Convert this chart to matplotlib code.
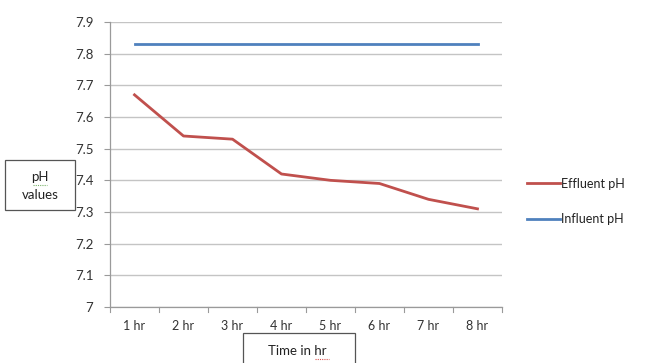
import matplotlib
matplotlib.use("Agg")
import matplotlib.pyplot as plt
from matplotlib.patches import Rectangle

categories = ["1 hr", "2 hr", "3 hr", "4 hr", "5 hr", "6 hr", "7 hr", "8 hr"]
effluent_ph = [7.67, 7.54, 7.53, 7.42, 7.40, 7.39, 7.34, 7.31]
influent_ph = [7.83, 7.83, 7.83, 7.83, 7.83, 7.83, 7.83, 7.83]
y_ticks = [7.0, 7.1, 7.2, 7.3, 7.4, 7.5, 7.6, 7.7, 7.8, 7.9]
y_tick_labels = ["7", "7.1", "7.2", "7.3", "7.4", "7.5", "7.6", "7.7", "7.8", "7.9"]

W, H = 657, 363
fig = plt.figure(figsize=(W / 100, H / 100), dpi=100)
plt.rcParams["font.family"] = ["Lato", "DejaVu Sans"]

ax = fig.add_axes([110 / W, 1 - 307 / H, (502 - 110) / W, (307 - 22) / H])
x = list(range(len(categories)))

ax.plot(x, effluent_ph, color="#C0504D", lw=2.0, label="Effluent pH", solid_joinstyle="round")
ax.plot(x, influent_ph, color="#4F81BD", lw=2.0, label="Influent pH")

ax.set_xlim(-0.5, len(categories) - 0.5)
ax.set_ylim(7.0, 7.9)
ax.set_yticks(y_ticks)
ax.set_yticklabels(y_tick_labels)
ax.set_xticks(x)
ax.set_xticklabels(categories)
ax.tick_params(axis="x", length=0, pad=9, labelsize=9, labelcolor="#333333")
ax.tick_params(axis="y", length=4, width=0.8, color="#9a9a9a", pad=8,
               labelsize=9.5, labelcolor="#333333", direction="out")

# category boundary tick marks
for b in [i - 0.5 for i in range(len(categories) + 1)]:
    ax.plot([b, b], [7.0, 6.985], color="#9a9a9a", lw=0.8, clip_on=False)

ax.grid(axis="y", color="#c4c4c4", lw=1.0)
ax.set_axisbelow(True)
for s in ["top", "right"]:
    ax.spines[s].set_visible(False)
for s in ["left", "bottom"]:
    ax.spines[s].set_color("#9a9a9a")
    ax.spines[s].set_linewidth(0.9)

# legend
leg = ax.legend(loc="center left", bbox_to_anchor=(1.064, 0.37), frameon=False,
                fontsize=9, handlelength=2.6, handletextpad=0.15, labelspacing=1.9,
                borderpad=0, borderaxespad=0)
for t in leg.get_texts():
    t.set_color("#222222")

# y-axis title box
fig.patches.append(Rectangle((5 / W, 1 - 210 / H), 70 / W, 50 / H,
                             transform=fig.transFigure, fill=False,
                             edgecolor="#555555", lw=0.9))
fig.text(40 / W, 1 - 177 / H, "pH", ha="center", va="center", fontsize=9.5, color="#222222")
fig.lines.append(plt.Line2D([33 / W, 47 / W], [1 - 185 / H, 1 - 185 / H],
                            transform=fig.transFigure, color="#7ab36a", lw=0.8, ls=(0, (1, 1))))
fig.text(40 / W, 1 - 195 / H, "values", ha="center", va="center", fontsize=9.5, color="#222222")

# x-axis title box
fig.patches.append(Rectangle((243 / W, 1 - 370 / H), 112 / W, 37 / H,
                             transform=fig.transFigure, fill=False,
                             edgecolor="#555555", lw=0.9, clip_on=False))
fig.text(297 / W, 1 - 351 / H, "Time in hr", ha="center", va="center", fontsize=9.5, color="#222222")
fig.lines.append(plt.Line2D([315 / W, 329 / W], [1 - 359 / H, 1 - 359 / H],
                            transform=fig.transFigure, color="#d9534f", lw=0.8, ls=(0, (1, 1))))

fig.savefig("out.png", dpi=100)
